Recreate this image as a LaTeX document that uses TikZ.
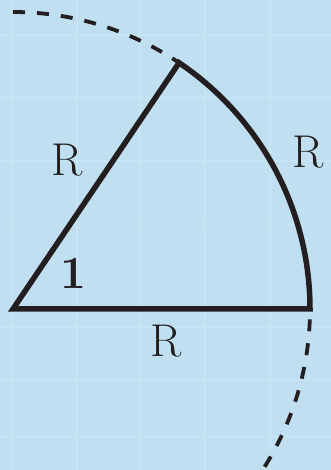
\documentclass[tikz,border=0pt]{standalone}
\usetikzlibrary{positioning}
\definecolor{paper}{RGB}{192,224,242}
\definecolor{gridline}{RGB}{198,228,244}
\definecolor{ink}{RGB}{35,31,32}
\begin{document}
\begin{tikzpicture}[x=1pt, y=1pt,
    edge/.style={line width=5.5pt, line join=miter, draw=ink},
    guide/.style={line width=3.8pt, dash pattern=on 12pt off 12pt, draw=ink},
    lbl/.style={font=\fontsize{46}{46}\selectfont, text=ink, inner sep=0pt}]
    % paper and faint grid
    \fill[paper] (-13,-161) rectangle (318,309);
    \useasboundingbox (-13,-161) rectangle (318,309);
    \clip (-13,-161) rectangle (318,309);
    \foreach \gx in {-1,64,127,192,257} \draw[gridline, line width=1.2pt] (\gx,-161) -- (\gx,309);
    \foreach \gy in {274,211,148,85,-18,-71,-128} \draw[gridline, line width=1.2pt] (-13,\gy) -- (318,\gy);
    % sector
    \coordinate (O) at (0,0);
    \coordinate (A) at (0:297);
    \coordinate (B) at (56:297);
    \coordinate (T) at (90:297);
    \coordinate (D) at (-2:297);
    \draw[edge] (A) -- (O) -- (B) arc[start angle=56, end angle=0, radius=297] -- cycle;
    % rest of the circle
    \draw[guide] (T) arc[start angle=90, end angle=56.5, radius=297];
    \draw[guide] (D) arc[start angle=-2, end angle=-40, radius=297];
    % labels
    \node[lbl] (side) at (54,149) {R};
    \node[lbl] (arcR) at (295,157) {R};
    \node[lbl] (base) at (153,-32) {R};
    \node[lbl] (angle) at (60,36) {\textbf{1}};
\end{tikzpicture}
\end{document}
